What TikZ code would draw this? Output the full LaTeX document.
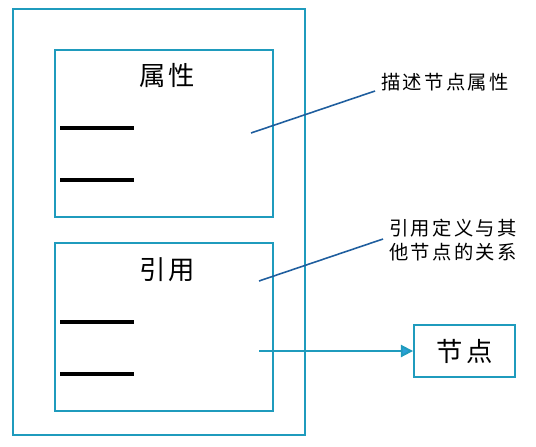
\documentclass[tikz,border=0pt]{standalone}
\usepackage{fontspec}
\newfontfamily\cjk[LetterSpace=12]{Noto Sans CJK SC}
\usetikzlibrary{arrows.meta}
\definecolor{boxblue}{HTML}{1F9BBD}
\definecolor{calloutblue}{HTML}{1F5E9E}
\definecolor{arrowblue}{HTML}{2A9FD8}
\tikzstyle{frame}=[rectangle, draw=boxblue, line width=1.1pt, inner sep=0]
\tikzstyle{field}=[line width=2.4pt, black]
\tikzstyle{callout}=[calloutblue, line width=0.9pt]
\tikzstyle{label}=[font=\cjk\fontsize{11}{14}\selectfont, align=center]
\tikzstyle{title}=[font=\cjk\fontsize{15}{18}\selectfont]
\tikzstyle{arrow}=[boxblue, line width=1.1pt, -{Triangle[length=7pt,width=7pt,fill=arrowblue]}]

\begin{document}
\begin{tikzpicture}[x=0.02cm,y=-0.02cm]
\useasboundingbox (0,0) rectangle (536,446);

\node[frame, minimum width=5.84cm, minimum height=8.52cm] (outer) at (159,222) {};
\node[frame, minimum width=4.36cm, minimum height=3.34cm] (attr) at (164,133.5) {};
\node[frame, minimum width=4.36cm, minimum height=3.36cm] (ref) at (164,327) {};
\node[frame, minimum width=2.02cm, minimum height=1.04cm, title] (node) at (464.5,351) {节点};

\node[title] (attrtitle) at (167,75) {属性};
\node[title] (reftitle) at (167,270) {引用};

% fields in each box
\foreach \y in {128,180,322,374}
	\draw[field] (60,\y)--(134,\y);

% callouts
\node[label] (desc) at (445,82) {描述节点属性};
\node[label] (reldesc) at (453,240) {引用定义与其\\他节点的关系};
\coordinate (attrpt) at (251,133);
\coordinate (refpt) at (259,281);
\coordinate (refout) at (259,351);
\draw[callout] (attrpt)--(375,91);
\draw[callout] (refpt)--(383,239);
\draw[arrow] (refout)--(node.west);
\end{tikzpicture}
\end{document}
